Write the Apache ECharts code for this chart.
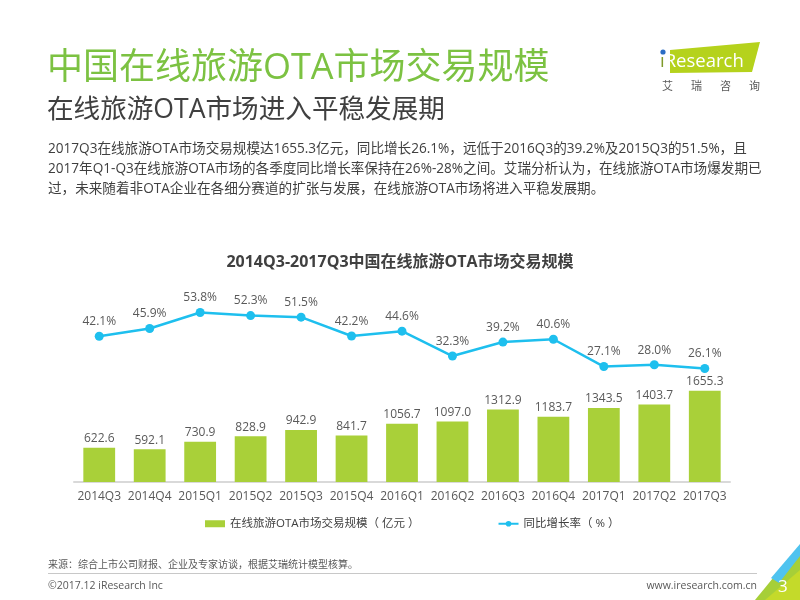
<!DOCTYPE html>
<html>
<head>
<meta charset="utf-8">
<script src="https://cdn.jsdelivr.net/npm/echarts@6/dist/echarts.min.js"></script>
<style>
  html,body{margin:0;padding:0;background:#fff;}
  #wrap{position:relative;width:800px;height:600px;overflow:hidden;font-family:"Open Sans","Noto Sans CJK SC",sans-serif;}
  #chart{position:absolute;left:0;top:0;width:800px;height:600px;}
  .abs{position:absolute;white-space:nowrap;}
  #t1{left:47px;top:44px;font-size:36px;color:#7cc242;line-height:44px;}
  #t2{left:47px;top:91px;font-size:26.6px;color:#404040;line-height:34px;}
  #body{left:48px;top:138px;font-size:13.6px;color:#404040;line-height:20px;}
  #src{left:48px;top:556px;font-size:10px;color:#595959;}
  #hr{left:48px;top:573px;width:709px;height:1px;background:#c8c8c8;}
  #copy{left:48px;top:578px;font-size:10.5px;color:#595959;}
  #www{right:43px;top:578px;font-size:10.5px;color:#595959;}
  #pg{left:778px;top:574px;font-size:17px;color:#fff;}
  #logoTxt{left:660px;top:49px;font-size:18.5px;color:#fff;line-height:22px;}
  #logoCn{left:662px;top:77px;font-size:11px;color:#595959;letter-spacing:18px;}
</style>
</head>
<body>
<div id="wrap">
  <div id="chart"></div>
  <svg class="abs" style="left:0;top:0" width="800" height="600">
    <polygon points="670,50 760,42 752,72 670,73" fill="#b5d21c"/>
    <polygon points="755,600 800,545 800,600" fill="#a6cf38"/>
    <polygon points="771,578 800,544 800,556 779,583" fill="#4fc3ef"/>
    <polygon points="765,600 800,570 800,600" fill="#c4da2a"/>
  </svg>
  <div class="abs" id="t1">中国在线旅游OTA市场交易规模</div>
  <div class="abs" id="t2">在线旅游OTA市场进入平稳发展期</div>
  <div class="abs" id="body">2017Q3在线旅游OTA市场交易规模达1655.3亿元，同比增长26.1%，远低于2016Q3的39.2%及2015Q3的51.5%，且<br>2017年Q1-Q3在线旅游OTA市场的各季度同比增长率保持在26%-28%之间。艾瑞分析认为，在线旅游OTA市场爆发期已<br>过，未来随着非OTA企业在各细分赛道的扩张与发展，在线旅游OTA市场将进入平稳发展期。</div>
  <div class="abs" id="logoTxt"><span style="color:#7f9a2a">ı</span>Research</div>
  <svg class="abs" style="left:0;top:0" width="800" height="100">
    <circle cx="663" cy="52" r="2.6" fill="#2b6cc4"/>
  </svg>
  <div class="abs" id="logoCn">艾瑞咨询</div>
  <div class="abs" id="src">来源：综合上市公司财报、企业及专家访谈，根据艾瑞统计模型核算。</div>
  <div class="abs" id="hr"></div>
  <div class="abs" id="copy">©2017.12 iResearch Inc</div>
  <div class="abs" id="www">www.iresearch.com.cn</div>
  <div class="abs" id="pg">3</div>
</div>
<script>
const chartTitle = '2014Q3-2017Q3中国在线旅游OTA市场交易规模';
const categories = ['2014Q3','2014Q4','2015Q1','2015Q2','2015Q3','2015Q4','2016Q1','2016Q2','2016Q3','2016Q4','2017Q1','2017Q2','2017Q3'];
const gmvName = '在线旅游OTA市场交易规模（ 亿元 ）';
const gmv = [622.6,592.1,730.9,828.9,942.9,841.7,1056.7,1097.0,1312.9,1183.7,1343.5,1403.7,1655.3];
const growthName = '同比增长率（ % ）';
const growth = [42.1,45.9,53.8,52.3,51.5,42.2,44.6,32.3,39.2,40.6,27.1,28.0,26.1];

const FONT = '"Open Sans","Noto Sans CJK SC",sans-serif';
const chart = echarts.init(document.getElementById('chart'), null, {renderer:'canvas'});
chart.setOption({
  animation:false,
  textStyle:{fontFamily:FONT},
  title:{
    text:chartTitle, left:'center', top:249,
    textStyle:{fontSize:16,fontWeight:'bold',color:'#404040',fontFamily:FONT}
  },
  legend:{
    left:200, top:513, itemGap:78,
    itemWidth:20, itemHeight:7,
    textStyle:{fontSize:11.5,color:'#404040',fontFamily:FONT},
    data:[{name:gmvName,icon:'rect'},{name:growthName}]
  },
  grid:{left:74,right:70,top:300,bottom:118,containLabel:false},
  xAxis:{
    type:'category', data:categories,
    axisLine:{lineStyle:{color:'#d9d9d9',width:2}},
    axisTick:{show:false},
    axisLabel:{color:'#595959',fontSize:12,margin:9,fontFamily:FONT,interval:0}
  },
  yAxis:[
    {type:'value',min:0,max:3300,show:false,splitLine:{show:false}},
    {type:'value',min:-30,max:60,show:false,splitLine:{show:false}}
  ],
  series:[
    {
      name:gmvName, type:'bar', data:gmv, yAxisIndex:0,
      barWidth:'63%',
      itemStyle:{color:'#a9d039'},
      label:{show:true,position:'top',distance:3,color:'#595959',fontSize:12,fontFamily:FONT,
        formatter:p=>p.value.toFixed(1)}
    },
    {
      name:growthName, type:'line', data:growth, yAxisIndex:1,
      symbol:'circle', symbolSize:9,
      lineStyle:{color:'#1ebfee',width:2.5},
      itemStyle:{color:'#1ebfee'},
      label:{show:true,position:'top',distance:4,color:'#595959',fontSize:12,fontFamily:FONT,
        formatter:p=>p.value.toFixed(1)+'%'}
    }
  ]
});
</script>
</body>
</html>
